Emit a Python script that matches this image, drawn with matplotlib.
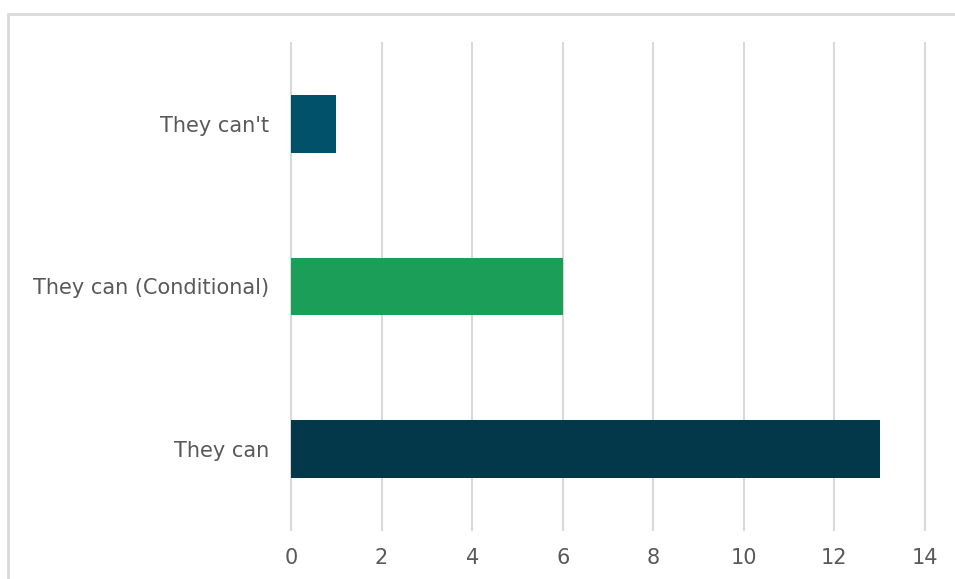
import matplotlib.pyplot as plt
from matplotlib.patches import Rectangle

categories = ["They can", "They can (Conditional)", "They can't"]
values = [13, 6, 1]
colors = ["#03374A", "#1B9F58", "#01516B"]
x_ticks = [0, 2, 4, 6, 8, 10, 12, 14]

fig = plt.figure(figsize=(9.55, 5.79), dpi=100)
ax = fig.add_axes([291 / 955, 49 / 579, 634 / 955, 487 / 579])

# chart area border (clipped by image edge on right/bottom)
fig.patches.append(Rectangle((7.5 / 955, -0.2), 1.2, 1.2 - 14 / 579,
                             transform=fig.transFigure, fill=False,
                             edgecolor="#D9D9D9", linewidth=2))

ax.barh(range(len(categories)), values, height=0.357, color=colors, zorder=3)

ax.set_xlim(0, 14)
ax.set_ylim(-0.5, 2.5)
ax.set_xticks(x_ticks)
ax.set_yticks(range(len(categories)))
ax.set_yticklabels(categories)
ax.grid(axis="x", color="#D9D9D9", linewidth=1.5, zorder=0)
for gl in ax.get_xgridlines():
    gl.set_clip_on(False)
for s in ax.spines.values():
    s.set_visible(False)
ax.tick_params(length=0, labelsize=15, colors="#595959")
ax.tick_params(axis="x", pad=13)
ax.tick_params(axis="y", pad=16)

fig.savefig("out.png", dpi=100)
